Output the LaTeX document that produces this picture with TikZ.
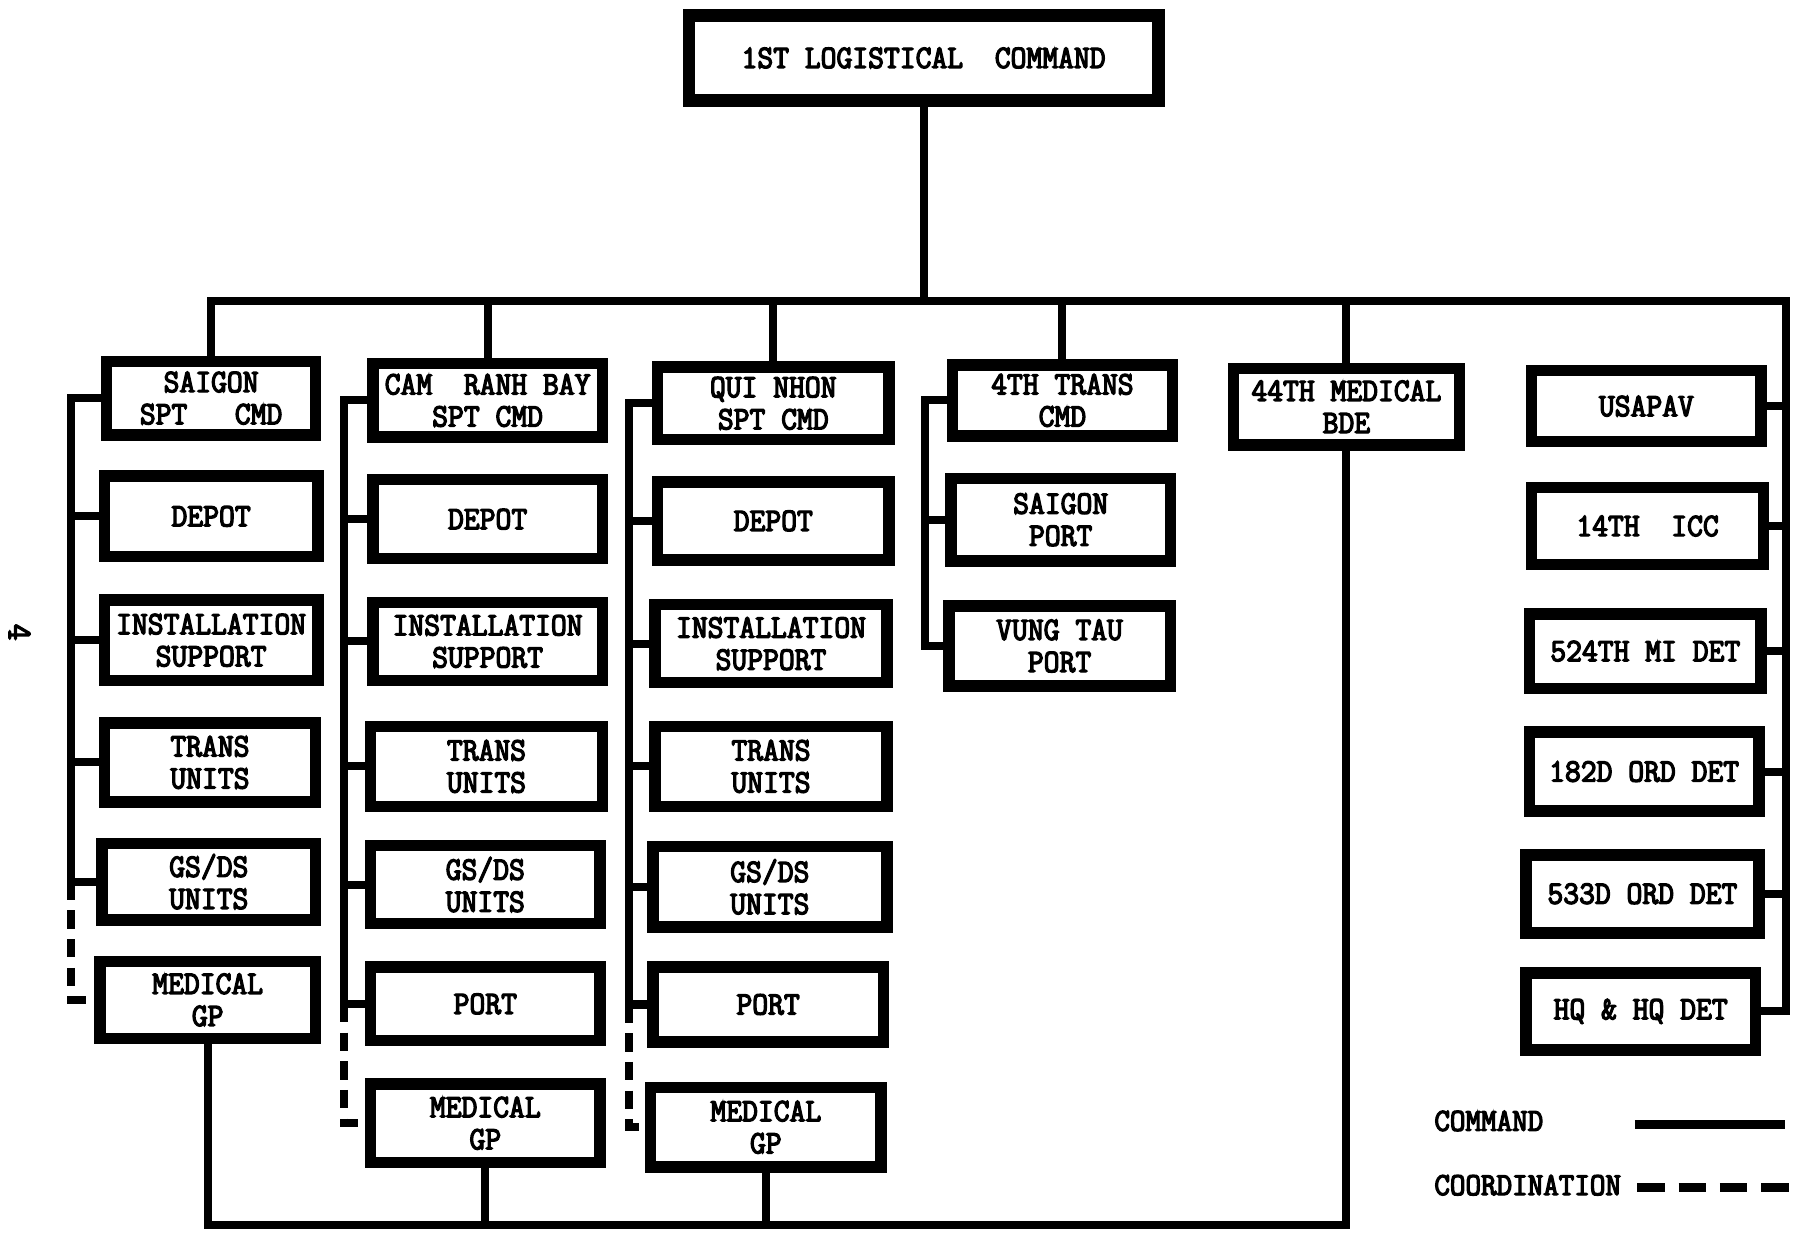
\documentclass[tikz,border=0pt]{standalone}
\usepackage{fontspec}
\newfontfamily\tw[FakeStretch=0.94, FakeBold=4]{Latin Modern Mono}
\newcommand\bx[6]{\node[box, minimum width={#4-#2-10}, minimum height={#5-#3-10}] (#1) at ({(#2+#4)/2},{(#3+#5)/2}) {#6};}
\begin{document}
\begin{tikzpicture}[x=1pt,y=-1pt,
  box/.style={draw, line width=10pt, inner sep=0pt, align=center, font=\tw\fontsize{28.5}{28}\selectfont},
  lbl/.style={inner sep=0pt, font=\tw\fontsize{28}{28}\selectfont},
  cmd/.style={line width=7pt},
  crd/.style={line width=7pt, dash pattern=on 16pt off 9pt},
]
\useasboundingbox (0,0) rectangle (1568,1087);
% top
\node[box, line width=11pt, minimum width=409, minimum height=74] (top) at (805,50.5) {1ST LOGISTICAL\ \ COMMAND};
% column 1
\bx{sg}{88}{310}{280}{384}{SAIGON\\SPT\ \ \ CMD}
\bx{dep1}{86}{410}{282}{490}{DEPOT}
\bx{ins1}{86}{518}{282}{598}{INSTALLATION\\SUPPORT}
\bx{tr1}{86}{625}{280}{704}{TRANS\\UNITS}
\bx{gs1}{84}{730}{280}{807}{GS/DS\\UNITS}
\bx{med1}{82}{833}{280}{910}{MEDICAL\\GP}
% column 2
\bx{crb}{320}{312}{530}{386}{CAM\ \ RANH BAY\\SPT CMD}
\bx{dep2}{320}{413}{530}{492}{DEPOT}
\bx{ins2}{320}{520}{530}{598}{INSTALLATION\\SUPPORT}
\bx{tr2}{318}{628}{530}{708}{TRANS\\UNITS}
\bx{gs2}{318}{732}{528}{810}{GS/DS\\UNITS}
\bx{port2}{318}{838}{528}{912}{PORT}
\bx{med2}{318}{940}{528}{1018}{MEDICAL\\GP}
% column 3
\bx{qn}{568}{315}{780}{388}{QUI NHON\\SPT CMD}
\bx{dep3}{568}{415}{780}{493}{DEPOT}
\bx{ins3}{566}{522}{778}{600}{INSTALLATION\\SUPPORT}
\bx{tr3}{566}{628}{778}{708}{TRANS\\UNITS}
\bx{gs3}{564}{733}{778}{813}{GS/DS\\UNITS}
\bx{port3}{564}{838}{775}{913}{PORT}
\bx{med3}{562}{943}{773}{1022}{MEDICAL\\GP}
% column 4
\bx{tt}{825}{313}{1027}{385}{4TH TRANS\\CMD}
\bx{sp}{824}{412}{1025}{494}{SAIGON\\PORT}
\bx{vt}{822}{523}{1025}{603}{VUNG TAU\\PORT}
% column 5
\bx{bde}{1070}{316}{1277}{393}{44TH MEDICAL\\BDE}
% right column
\bx{us}{1330}{318}{1540}{390}{USAPAV}
\bx{icc}{1330}{420}{1542}{497}{14TH\ \ ICC}
\bx{mi}{1328}{530}{1540}{605}{524TH MI DET}
\bx{ord1}{1328}{633}{1538}{712}{182D ORD DET}
\bx{ord2}{1325}{740}{1538}{818}{533D ORD DET}
\bx{hq}{1325}{843}{1535}{920}{HQ \& HQ DET}
% page number
\node[lbl, rotate=-90, font=\tw\fontsize{30}{30}\selectfont] (pg) at (17,551) {4};
% coordinates
\coordinate (bus) at (1557,262);
\coordinate (s1) at (62,0);
\coordinate (s2) at (300,0);
\coordinate (s3) at (548,0);
\coordinate (s4) at (806,0);
\coordinate (bb) at (0,1068);
% command lines
\draw[cmd] (top.south) -- (top.south |- bus);
\draw[cmd] (sg.north) |- (bus) |- (hq.east);
\foreach \n in {crb,qn,tt,bde} \draw[cmd] (\n.north) -- (\n.north |- bus);
\foreach \n in {us,icc,mi,ord1,ord2} \draw[cmd] (\n.east) -- (\n.east -| bus);
% column spines
\draw[cmd] (sg.west) -- (sg.west -| s1) |- (gs1.west);
\foreach \n in {dep1,ins1,tr1} \draw[cmd] (\n.west) -- (\n.west -| s1);
\draw[crd] (gs1.west -| s1) |- (med1.west);
\draw[cmd] (crb.west) -- (crb.west -| s2) |- (port2.west);
\foreach \n in {dep2,ins2,tr2,gs2} \draw[cmd] (\n.west) -- (\n.west -| s2);
\draw[crd] (port2.west -| s2) |- (med2.west);
\draw[cmd] (qn.west) -- (qn.west -| s3) |- (port3.west);
\foreach \n in {dep3,ins3,tr3,gs3} \draw[cmd] (\n.west) -- (\n.west -| s3);
\draw[crd] (port3.west -| s3) |- (med3.west);
\draw[cmd] (tt.west) -- (tt.west -| s4) |- (vt.west);
\draw[cmd] (sp.west) -- (sp.west -| s4);
% bottom bus
\draw[cmd] (med1.south) |- (bde.south |- bb) -- (bde.south);
\draw[cmd] (med2.south) -- (med2.south |- bb);
\draw[cmd] (med3.south) -- (med3.south |- bb);
% legend
\node[lbl, anchor=west] (lc) at (1250,977) {COMMAND};
\node[lbl, anchor=west] (lk) at (1250,1033) {COORDINATION};
\coordinate (lc1) at (1425,980);
\coordinate (lc2) at (1556,980);
\coordinate (lk1) at (1427,1035);
\coordinate (lk2) at (1560,1035);
\draw[line width=8pt] (lc1) -- (lc2);
\draw[line width=8pt, dash pattern=on 24pt off 12pt] (lk1) -- (lk2);
\end{tikzpicture}
\end{document}
